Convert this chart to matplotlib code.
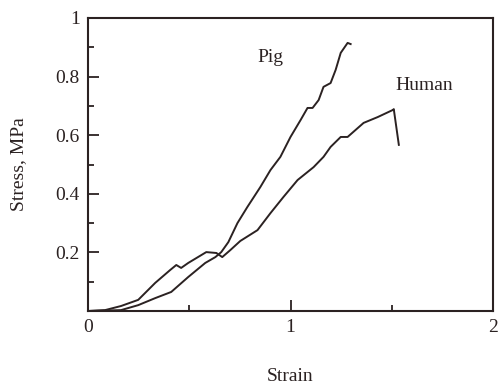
import matplotlib
matplotlib.use("Agg")
import matplotlib.pyplot as plt
from matplotlib.ticker import FixedLocator

plt.rcParams['font.family'] = ['Liberation Serif', 'DejaVu Serif']

pig_strain = [0.0, 0.163, 0.248, 0.332, 0.411, 0.495, 0.579, 0.629, 0.658, 0.693,
              0.738, 0.787, 0.851, 0.901, 0.950, 1.000, 1.050, 1.084, 1.109, 1.139,
              1.163, 1.198, 1.223, 1.248, 1.282, 1.297]
pig_stress = [0.0, 0.003, 0.020, 0.044, 0.065, 0.116, 0.164, 0.184, 0.201, 0.235,
              0.300, 0.355, 0.423, 0.481, 0.526, 0.594, 0.652, 0.693, 0.693, 0.720,
              0.765, 0.778, 0.823, 0.881, 0.915, 0.911]

human_strain = [0.0, 0.084, 0.163, 0.248, 0.332, 0.406, 0.436, 0.460, 0.495, 0.584,
                0.634, 0.663, 0.703, 0.752, 0.837, 0.901, 0.965, 1.035, 1.114, 1.163,
                1.198, 1.248, 1.282, 1.361, 1.431, 1.505, 1.510, 1.535]
human_stress = [0.0, 0.003, 0.017, 0.038, 0.096, 0.140, 0.157, 0.147, 0.164, 0.201,
                0.198, 0.184, 0.208, 0.239, 0.276, 0.334, 0.389, 0.447, 0.491, 0.526,
                0.560, 0.594, 0.594, 0.642, 0.662, 0.686, 0.689, 0.567]

x_ticks = [0, 1, 2]
x_ticklabels = ["0", "1", "2"]
y_ticks = [0.2, 0.4, 0.6, 0.8, 1.0]
y_ticklabels = ["0.2", "0.4", "0.6", "0.8", "1"]

ink = '#2b2222'
fs = 14
fig = plt.figure(figsize=(4.99, 3.86), dpi=100)
ax = fig.add_axes([88/499, 1 - 311/386, (493-88)/499, (311-18)/386])

ax.plot(pig_strain, pig_stress, color=ink, lw=1.4)
ax.plot(human_strain, human_stress, color=ink, lw=1.4)

ax.set_xlim(0, 2)
ax.set_ylim(0, 1)
ax.set_xticks(x_ticks)
ax.set_xticklabels(x_ticklabels)
ax.set_yticks(y_ticks)
ax.set_yticklabels(y_ticklabels)
ax.xaxis.set_minor_locator(FixedLocator([0.5, 1.5]))
ax.yaxis.set_minor_locator(FixedLocator([0.1, 0.3, 0.5, 0.7, 0.9]))
ax.tick_params(which='major', direction='in', length=8, width=1.3, color=ink,
               labelsize=fs, labelcolor=ink, pad=6)
ax.tick_params(which='minor', direction='in', length=4, width=1.3, color=ink)
for s in ax.spines.values():
    s.set_color(ink)
    s.set_linewidth(1.5)

ax.set_xlabel("Strain", fontsize=fs, color=ink, labelpad=23)
ax.set_ylabel("Stress, MPa", fontsize=fs, color=ink, labelpad=20)

ax.text(0.9, 0.865, "Pig", fontsize=fs, color=ink, ha='center', va='center')
ax.text(1.66, 0.77, "Human", fontsize=fs, color=ink, ha='center', va='center')

fig.savefig("out.png", dpi=100)
